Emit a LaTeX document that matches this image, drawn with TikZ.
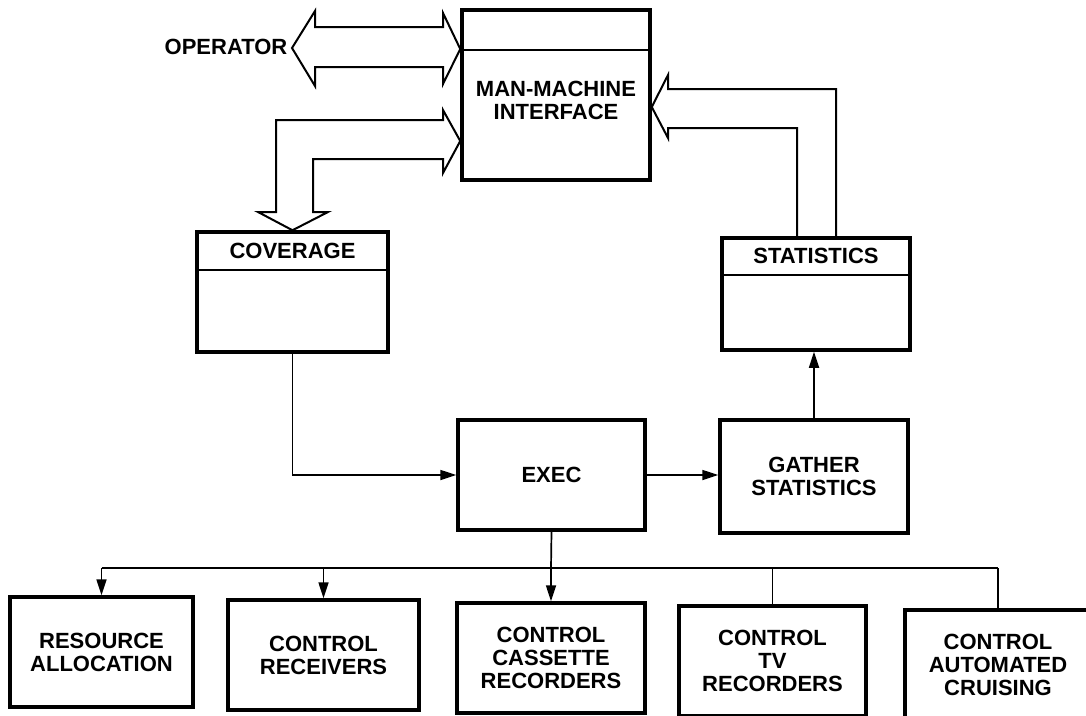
\documentclass[tikz,border=0pt]{standalone}
\usepackage{fontspec}
\setmainfont{Liberation Sans}
\usetikzlibrary{arrows.meta,calc}
\begin{document}
\begin{tikzpicture}[x=1pt,y=-1pt,
  box/.style={draw, line width=3.5pt, inner sep=0pt, align=center},
  lbl/.style={inner sep=0pt, align=center, font=\bfseries\fontsize{22}{23}\selectfont},
  conn/.style={line width=1.7pt, -{Triangle[length=16pt,width=10pt]}},
  plainline/.style={line width=1.7pt},
  fat/.style={line width=2pt, line join=miter, miter limit=20},
  divider/.style={line width=2pt}]
\useasboundingbox (0,0) rectangle (1086,715);
% upper boxes
\node[box, minimum width=188pt, minimum height=170pt] (mmi) at (556,95) {};
\node[lbl] (mmit) at (556,100.5) {MAN-MACHINE\\INTERFACE};
\draw[divider] (mmi.west |- 0,50) -- (mmi.east |- 0,50);
\node[box, minimum width=191pt, minimum height=120pt] (cov) at (292.5,292) {};
\node[lbl] (covt) at (292.5,251) {COVERAGE};
\draw[divider] (cov.west |- 0,270) -- (cov.east |- 0,270);
\node[box, minimum width=188pt, minimum height=112pt] (stat) at (816,294) {};
\node[lbl] (statt) at (816,256) {STATISTICS};
\draw[divider] (stat.west |- 0,275) -- (stat.east |- 0,275);
\node[box, lbl, line width=3.5pt, draw, minimum width=187pt, minimum height=110pt] (exec) at (551.5,475) {EXEC};
\node[box, lbl, line width=3.5pt, draw, minimum width=188pt, minimum height=113pt] (gath) at (814,476.5) {GATHER\\STATISTICS};
\node[lbl] (op) at (226,47) {OPERATOR};
% bottom boxes
\node[box, lbl, line width=3.5pt, draw, minimum width=183pt, minimum height=110pt] (res) at (101.5,652) {RESOURCE\\ALLOCATION};
\node[box, lbl, line width=3.5pt, draw, minimum width=191pt, minimum height=110pt] (rec) at (323.5,655) {CONTROL\\RECEIVERS};
\node[box, lbl, line width=3.5pt, draw, minimum width=188pt, minimum height=110pt] (cas) at (551,658) {CONTROL\\CASSETTE\\RECORDERS};
\node[box, lbl, line width=3.5pt, draw, minimum width=187pt, minimum height=110pt] (tv) at (772.5,661) {CONTROL\\TV\\RECORDERS};
\node[box, lbl, line width=3.5pt, draw, minimum width=186pt, minimum height=110pt] (cru) at (998,665) {CONTROL\\AUTOMATED\\CRUISING};
% wide arrows
\draw[fat] (292,48) -- (315,11) -- (315,27) -- (443,27) -- (443,13) -- (mmi.west |- 0,49)
  -- (443,84) -- (443,67) -- (315,67) -- (315,86) -- cycle;
\draw[fat] (mmi.west |- 0,141) -- (443,110) -- (443,120) -- (276,120) -- (276,212) -- (258,212)
  -- (cov.north) -- (328,212) -- (313,212) -- (313,159) -- (443,159) -- (443,173) -- cycle;
\draw[fat] (stat.north -| 836,0) -- (836,89) -- (668,89) -- (668,75) -- (mmi.east |- 0,107)
  -- (668,138) -- (668,128) -- (797,128) -- (stat.north -| 797,0);
% thin connectors
\coordinate (bus) at (551,568);
\draw[conn] (cov.south) |- (exec.west);
\draw[conn] (exec.east) -- (exec.east -| gath.west);
\draw[conn] (gath.north) -- (gath.north |- stat.south);
\draw[plainline] (exec.south) -- (bus);
\draw[plainline] (res.north |- bus) -- (cru.north |- bus);
\draw[conn] (res.north |- bus) -- (res.north);
\draw[conn] (rec.north |- bus) -- (rec.north);
\draw[conn] (bus) -- (cas.north);
\draw[plainline] (tv.north |- bus) -- (tv.north);
\draw[plainline] (cru.north |- bus) -- (cru.north);
\end{tikzpicture}
\end{document}
